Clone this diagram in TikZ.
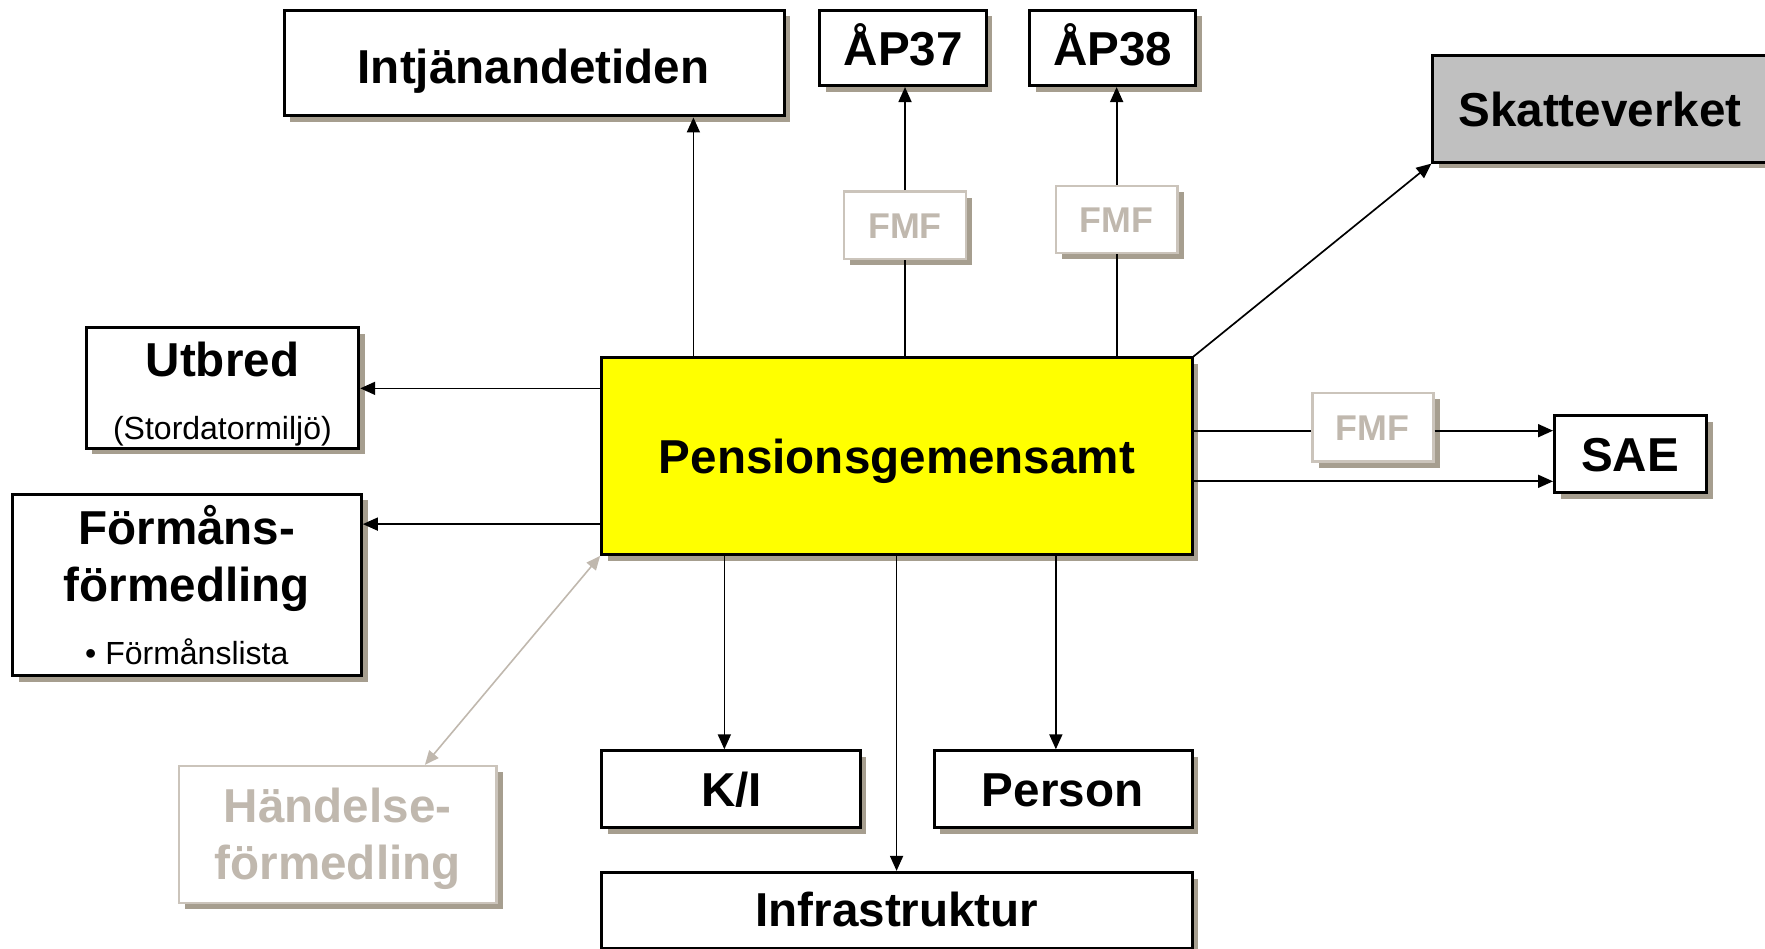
\documentclass[tikz,border=0pt]{standalone}
\usepackage{fontspec}
\setmainfont{Liberation Sans}
\usetikzlibrary{arrows.meta,fit,shadows}
\definecolor{shadowc}{RGB}{166,158,143}
\definecolor{paleline}{RGB}{203,196,187}
\definecolor{paletext}{RGB}{192,184,174}
\definecolor{yell}{RGB}{255,255,0}
\definecolor{skattfill}{RGB}{192,192,192}

\begin{document}
\begin{tikzpicture}[x=0.5629pt,y=-0.5629pt,
  frame/.style={draw=black, line width=1.5pt, fill=white, inner sep=0pt,
    drop shadow={shadow xshift=3.1pt, shadow yshift=-3.1pt, fill=shadowc, opacity=1}},
  paleframe/.style={frame, draw=paleline, line width=1.2pt},
  big/.style={anchor=base, inner sep=0pt, font=\bfseries\fontsize{23.8}{28}\selectfont},
  fmftext/.style={anchor=base, inner sep=0pt, text=paletext, font=\bfseries\fontsize{17.9}{21}\selectfont},
  small/.style={anchor=base, inner sep=0pt, font=\fontsize{16}{19}\selectfont},
  conn/.style={line width=0.85pt, -{Triangle[length=7.5pt,width=6.5pt]}},
  plain/.style={line width=0.85pt},
  palearrow/.style={draw=paletext, line width=0.8pt,
    {Triangle[length=7pt,width=6pt]}-{Triangle[length=7pt,width=6pt]}}
]
\useasboundingbox (0,0) rectangle (1568,843);

% boxes
\node[frame, fit={(252.5,9) (696.7,103)}] (intj) {};
\node[frame, fit={(728.4,9) (876,76)}] (ap37) {};
\node[frame, fit={(915,9) (1062,76)}] (ap38) {};
\node[frame, fill=skattfill, fit={(1273,49.5) (1572,144)}] (skatt) {};
\node[paleframe, fit={(749.7,170) (858,230)}] (fmfa) {};
\node[paleframe, fit={(938,165) (1046,224.5)}] (fmfb) {};
\node[frame, fit={(76.5,291) (318.7,398)}] (utb) {};
\node[frame, fill=yell, fit={(534.5,318) (1059,492.5)}] (pg) {};
\node[paleframe, fit={(1166,349) (1273.5,410)}] (fmfc) {};
\node[frame, fit={(1381,369) (1516,437.5)}] (sae) {};
\node[frame, fit={(11,439) (321,600.5)}] (form) {};
\node[paleframe, fit={(159,680.5) (441,802)}] (hand) {};
\node[frame, fit={(534.5,667) (764,735)}] (ki) {};
\node[frame, fit={(830,667) (1059,735)}] (pers) {};
\node[frame, fit={(534.5,775) (1059,842.5)}] (infra) {};

% texts
\node[big] (tintj) at (474,74) {Intjänandetiden};
\node[big] (tap37) at (802.5,58) {ÅP37};
\node[big] (tap38) at (988.5,58) {ÅP38};
\node[big] (tskatt) at (1421.4,112) {Skatteverket};
\node[fmftext] (tfmfa) at (804,211.7) {FMF};
\node[fmftext] (tfmfb) at (992,206.4) {FMF};
\node[fmftext] (tfmfc) at (1219.5,391.5) {FMF};
\node[big] (tutb) at (197.6,334.6) {Utbred};
\node[small] (tutb2) at (197.6,390) {(Stordatormiljö)};
\node[big] (tpg) at (796.8,421) {Pensionsgemensamt};
\node[big] (tsae) at (1448,418.5) {SAE};
\node[big] (tform1) at (166,484) {Förmåns-};
\node[big] (tform2) at (166,534.5) {förmedling};
\node[small] (tform3) at (166,590) {• Förmånslista};
\node[big, text=paletext] (thand1) at (300,731) {Händelse-};
\node[big, text=paletext] (thand2) at (300,781) {förmedling};
\node[big] (tki) at (650,716.6) {K/I};
\node[big] (tpers) at (944,716.6) {Person};
\node[big] (tinfra) at (796.8,823) {Infrastruktur};

% connector columns and rows
\coordinate (cIntj) at (616,0);
\coordinate (cAa) at (804,0);
\coordinate (cAb) at (992,0);
\coordinate (cKi) at (643.5,0);
\coordinate (cInf) at (796.5,0);
\coordinate (cPer) at (938,0);
\coordinate (cHand) at (377.5,0);
\coordinate (rUtb) at (0,345);
\coordinate (rForm) at (0,465.6);
\coordinate (rFmf) at (0,382.6);
\coordinate (rSae) at (0,427.6);

% connectors
\draw[conn] (pg.north -| cIntj) -- (intj.south -| cIntj);
\draw[plain] (pg.north -| cAa) -- (fmfa.south -| cAa);
\draw[conn] (fmfa.north -| cAa) -- (ap37.south -| cAa);
\draw[plain] (pg.north -| cAb) -- (fmfb.south -| cAb);
\draw[conn] (fmfb.north -| cAb) -- (ap38.south -| cAb);
\draw[conn] (pg.north east) -- (skatt.south west);
\draw[plain] (pg.east |- rFmf) -- (fmfc.west |- rFmf);
\draw[conn] (fmfc.east |- rFmf) -- (sae.west |- rFmf);
\draw[conn] (pg.east |- rSae) -- (sae.west |- rSae);
\draw[conn] (pg.west |- rUtb) -- (utb.east |- rUtb);
\draw[conn] (pg.west |- rForm) -- (form.east |- rForm);
\draw[palearrow] (pg.south west) -- (hand.north -| cHand);
\draw[conn] (pg.south -| cKi) -- (ki.north -| cKi);
\draw[conn] (pg.south -| cInf) -- (infra.north -| cInf);
\draw[conn] (pg.south -| cPer) -- (pers.north -| cPer);
\end{tikzpicture}
\end{document}
